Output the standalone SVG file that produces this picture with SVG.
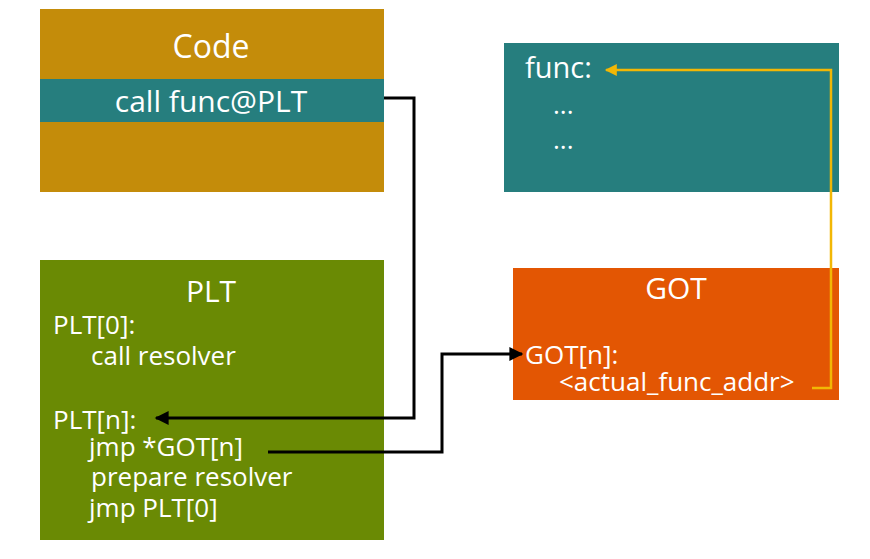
<svg xmlns="http://www.w3.org/2000/svg" width="870" height="559" viewBox="0 0 870 559">
<defs>
<style>
text{font-family:"Open Sans","Noto Sans","Liberation Sans",sans-serif;fill:#ffffff;font-size:26px}
.c{text-anchor:middle}
.t{font-size:30px}
.k{fill:none;stroke:#000;stroke-width:3}
.y{fill:none;stroke:#F2B705;stroke-width:2.5}
</style>
<marker id="ay" viewBox="0 0 10 10" refX="9" refY="5" markerWidth="14" markerHeight="12" markerUnits="userSpaceOnUse" orient="auto"><path d="M0,0 L10,5 L0,10 z" fill="#F2B705"/></marker>
<marker id="ab" viewBox="0 0 10 10" refX="9" refY="5" markerWidth="17" markerHeight="14" markerUnits="userSpaceOnUse" orient="auto"><path d="M0,0 L10,5 L0,10 z" fill="#000"/></marker>
</defs>
<rect width="870" height="559" fill="#ffffff"/>
<g id="code">
<rect x="40" y="9" width="344" height="183" fill="#C48C0A"/>
<rect x="40" y="79" width="344" height="43" fill="#267E7E"/>
<text x="211" y="58" class="c" style="font-size:32px">Code</text>
<text x="211" y="112" class="c" style="font-size:30px">call func@PLT</text>
</g>
<g id="plt">
<rect x="40" y="260" width="344" height="280" fill="#6A8A04"/>
<text x="211" y="302" class="c t">PLT</text>
<text x="53" y="334">PLT[0]:</text>
<text x="91" y="365">call resolver</text>
<text x="53" y="429">PLT[n]:</text>
<text x="89" y="456">jmp *GOT[n]</text>
<text x="91" y="486">prepare resolver</text>
<text x="89" y="517">jmp PLT[0]</text>
</g>
<g id="func">
<rect x="504" y="43" width="335" height="149" fill="#267E7E"/>
<text x="525" y="78" style="font-size:29px">func:</text>
<text x="553" y="114">...</text>
<text x="553" y="149">...</text>
</g>
<g id="got">
<rect x="513" y="268" width="326" height="132" fill="#E35603"/>
<text x="676" y="299" class="c t">GOT</text>
<text x="525" y="364">GOT[n]:</text>
<text x="559" y="391">&lt;actual_func_addr&gt;</text>
</g>
<g id="connectors">
<polyline class="k" points="384,98 414,98 414,418 156,418" marker-end="url(#ab)"/>
<polyline class="k" points="268,452 442,452 442,354 522,354" marker-end="url(#ab)"/>
<polyline class="y" points="812,388 831,388 831,70 606,70" marker-end="url(#ay)"/>
</g>
</svg>
